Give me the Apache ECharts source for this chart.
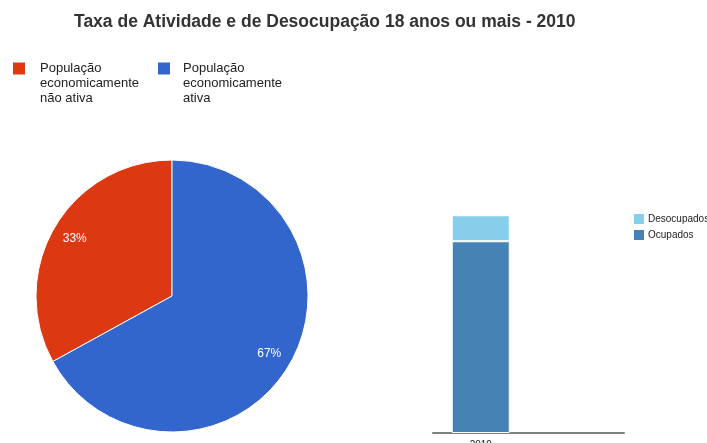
<!DOCTYPE html>
<html>
<head>
<meta charset="utf-8">
<script src="https://cdn.jsdelivr.net/npm/echarts@6/dist/echarts.min.js"></script>
<style>
  html, body { margin: 0; padding: 0; background: #fff; }
  #chart { width: 707px; height: 443px; }
</style>
</head>
<body>
<div id="chart"></div>
<script>
// dados
const pieNames = ['População economicamente não ativa', 'População economicamente ativa']
const pieValues = [33, 67]
const pieColors = ['#dc3912', '#3366cc']

const barCategories = ['2010', '']
const ocupados = [59, null]
const desocupados = [8, null]

const chart = echarts.init(document.getElementById('chart'))

const pieData = pieNames.map((name, i) => {
  return { name: name, value: pieValues[i], itemStyle: { color: pieColors[i] } }
})

// quebra o nome em linhas; as duas linhas vazias no início
// fazem o quadrado ficar alinhado com a primeira linha
const legendText = {
  'População economicamente não ativa': ' \n \nPopulação\neconomicamente\nnão ativa',
  'População economicamente ativa': ' \n \nPopulação\neconomicamente\nativa'
}

const pieLegend = (name, left, gap) => {
  return {
    data: [name],
    left: left,
    top: 31,
    padding: 0,
    icon: 'rect',
    itemWidth: 12,
    itemHeight: 12,
    itemStyle: { borderWidth: 0 },
    selectedMode: false,
    formatter: (n) => legendText[n],
    textStyle: {
      fontFamily: 'Liberation Sans, Arial, sans-serif',
      fontSize: 13,
      lineHeight: 15,
      color: '#222',
      padding: [0, 0, 0, gap]
    }
  }
}

const option = {
  animation: false,
  title: {
    text: 'Taxa de Atividade e de Desocupação 18 anos ou mais - 2010',
    left: 69,
    top: 8,
    textStyle: {
      fontFamily: 'Liberation Sans, Arial, sans-serif',
      fontSize: 17.5,
      fontWeight: 'bold',
      color: '#333'
    }
  },
  legend: [
    pieLegend(pieNames[0], 13, 10),
    pieLegend(pieNames[1], 158, 8),
    {
      data: ['Desocupados', 'Ocupados'],
      orient: 'vertical',
      left: 634,
      top: 214,
      padding: 0,
      icon: 'rect',
      itemWidth: 10,
      itemHeight: 10,
      itemGap: 6,
      itemStyle: { borderWidth: 0 },
      selectedMode: false,
      textStyle: {
        fontFamily: 'Liberation Sans, Arial, sans-serif',
        fontSize: 10,
        color: '#222',
        padding: [0, 0, 0, -1]
      }
    }
  ],
  grid: {
    left: 433,
    right: 83,
    top: 173,
    bottom: 10,
    containLabel: false,
    outerBoundsMode: 'none'
  },
  xAxis: {
    type: 'category',
    data: barCategories,
    axisLine: { lineStyle: { color: '#808080', width: 2 } },
    axisTick: { show: false },
    axisLabel: {
      margin: 7,
      fontFamily: 'Liberation Sans, Arial, sans-serif',
      fontSize: 10,
      color: '#222'
    }
  },
  yAxis: {
    type: 'value',
    min: 0,
    max: 80,
    show: false,
    splitLine: { show: false }
  },
  series: [
    {
      type: 'pie',
      center: [172, 296],
      radius: 136,
      startAngle: 90,
      clockwise: false,
      data: pieData,
      label: { show: false },
      labelLine: { show: false },
      itemStyle: { borderColor: '#fff', borderWidth: 1 }
    },
    {
      // anel transparente só para posicionar os rótulos de porcentagem
      type: 'pie',
      center: [172, 296],
      radius: [84, 136],
      startAngle: 90,
      clockwise: false,
      silent: true,
      percentPrecision: 0,
      data: pieNames.map((name, i) => ({ name: name, value: pieValues[i] })),
      itemStyle: { color: 'rgba(0,0,0,0)' },
      label: {
        show: true,
        position: 'inside',
        formatter: '{d}%',
        color: '#fff',
        fontFamily: 'Liberation Sans, Arial, sans-serif',
        fontSize: 12
      },
      labelLine: { show: false },
      emphasis: { disabled: true }
    },
    {
      name: 'Ocupados',
      type: 'bar',
      stack: 'total',
      barWidth: 58,
      data: ocupados,
      itemStyle: { color: '#4682b4', borderColor: '#fff', borderWidth: 1 }
    },
    {
      name: 'Desocupados',
      type: 'bar',
      stack: 'total',
      barWidth: 58,
      data: desocupados,
      itemStyle: { color: '#87ceeb', borderColor: '#fff', borderWidth: 1 }
    }
  ]
}

chart.setOption(option)
</script>
</body>
</html>
